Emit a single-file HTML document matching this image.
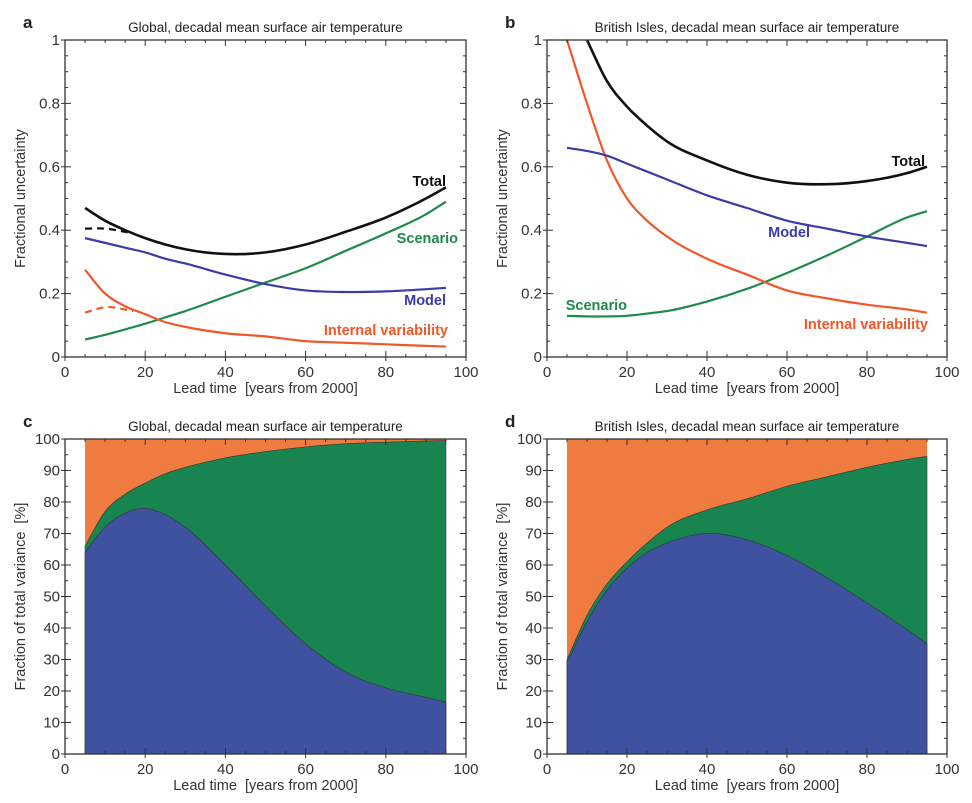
<!DOCTYPE html>
<html><head><meta charset="utf-8">
<style>
body{margin:0;background:#fff;}
svg{display:block;font-family:"Liberation Sans",Arial,sans-serif;}
</style></head>
<body>
<svg id="fig" width="972" height="803" viewBox="0 0 972 803"></svg>
<script>
const xs=[5,10,15,20,25,30,40,50,60,70,80,90,95];
// Panel a values
const aTotal=[0.47,0.43,0.40,0.375,0.355,0.34,0.325,0.33,0.355,0.395,0.44,0.50,0.535];
const aModel=[0.375,0.36,0.345,0.33,0.31,0.295,0.26,0.23,0.21,0.205,0.207,0.214,0.218];
const aScen=[0.055,0.07,0.087,0.105,0.125,0.145,0.19,0.235,0.28,0.335,0.39,0.45,0.49];
const aInt=[0.275,0.2,0.16,0.135,0.11,0.095,0.075,0.065,0.05,0.045,0.04,0.035,0.033];
const aDashX=[5,10,17];
const aTotalDash=[0.405,0.405,0.39];
const aIntDash=[0.14,0.157,0.145];
// Panel b values
const bTotalX=[10,15,20,25,30,40,50,60,70,80,90,95];
const bTotal=[1.0,0.87,0.79,0.73,0.68,0.62,0.575,0.55,0.545,0.555,0.58,0.6];
const bModel=[0.66,0.65,0.635,0.61,0.585,0.56,0.51,0.47,0.43,0.405,0.38,0.36,0.35];
const bScen=[0.13,0.128,0.128,0.13,0.137,0.145,0.175,0.215,0.265,0.32,0.38,0.44,0.46];
const bInt=[1.0,0.8,0.62,0.5,0.43,0.38,0.31,0.26,0.21,0.185,0.165,0.15,0.14];
// Panel c/d fractions (%)
const cModel=[64,72,76.5,78,76,72,60,47,35,26,21,18,16.5];
const cModelScen=[66,77,82.5,86,89,91,94,96,97.5,98.5,99,99.4,99.5];
const dModel=[29,42,52,59,64,67,70,68,63,56,48,39.5,35];
const dModelScen=[30,44,54,61,67,72,77.5,81,85,88,91,93.5,94.5];
const xTicks=[0,20,40,60,80,100];
const yTicksAB=[0,0.2,0.4,0.6,0.8,1];
const yTickLabAB=["0","0.2","0.4","0.6","0.8","1"];
const yTicksCD=[0,10,20,30,40,50,60,70,80,90,100];

const NS="http://www.w3.org/2000/svg";
const svg=document.getElementById('fig');
function el(tag,attrs,parent,text){const e=document.createElementNS(NS,tag);for(const k in attrs)e.setAttribute(k,attrs[k]);if(text!==undefined)e.textContent=text;(parent||svg).appendChild(e);return e;}

function mkPanel(L,R,T,B,ymax){
  return {L,R,T,B,ymax,sx:v=>L+(R-L)*v/100,sy:v=>B-(B-T)*v/ymax};
}
function smooth(pts){
  const n=pts.length;
  const tan=pts.map((p,i)=>{
    if(n<2)return [0,0];
    if(i===0)return [(pts[1][1]-p[1])/(pts[1][0]-p[0])];
    if(i===n-1)return [(p[1]-pts[i-1][1])/(p[0]-pts[i-1][0])];
    const d0=p[0]-pts[i-1][0],d1=pts[i+1][0]-p[0];
    const s0=(p[1]-pts[i-1][1])/d0,s1=(pts[i+1][1]-p[1])/d1;
    return [(s0*d1+s1*d0)/(d0+d1)];
  }).map(t=>t[0]);
  let d=`M${pts[0][0]},${pts[0][1]}`;
  for(let i=0;i<n-1;i++){
    const p1=pts[i],p2=pts[i+1],h=(p2[0]-p1[0])/3;
    d+=`C${p1[0]+h},${p1[1]+tan[i]*h} ${p2[0]-h},${p2[1]-tan[i+1]*h} ${p2[0]},${p2[1]}`;
  }
  return d;
}
function pts(P,xv,yv){return xv.map((x,i)=>[P.sx(x),P.sy(yv[i])]);}

function axes(P,g,letter,title,ylab,yt,ylabels,minorY){
  el('text',{x:P.L-42,y:P.T-12,'font-size':17,'font-weight':'bold',fill:'#222'},g,letter);
  const t=el('text',{x:(P.L+P.R)/2,y:P.T-8,'font-size':13.5,'text-anchor':'middle',fill:'#222'},g,title);
  
  const fr=el('rect',{x:P.L,y:P.T,width:P.R-P.L,height:P.B-P.T,fill:'none',stroke:'#333','stroke-width':1.3},g);
  
  for(let v=0;v<=100;v+=5){
    const x=P.sx(v),len=v%20===0?6:3;
    el('line',{x1:x,x2:x,y1:P.B,y2:P.B-len,stroke:'#333'},g);
    el('line',{x1:x,x2:x,y1:P.T,y2:P.T+len,stroke:'#333'},g);
  }
  xTicks.forEach(v=>{const x=P.sx(v);
    el('line',{x1:x,x2:x,y1:P.B,y2:P.B+4,stroke:'#333'},g);
    const l=el('text',{x:x,y:P.B+20,'font-size':15,'text-anchor':'middle',fill:'#333'},g,String(v));
    });
  for(let v=0;v<=P.ymax+1e-9;v+=minorY){
    const y=P.sy(v);const major=yt.some(t=>Math.abs(t-v)<1e-6);const len=major?6:3;
    el('line',{x1:P.L,x2:P.L+len,y1:y,y2:y,stroke:'#333'},g);
    el('line',{x1:P.R,x2:P.R-len,y1:y,y2:y,stroke:'#333'},g);
  }
  yt.forEach((v,i)=>{const y=P.sy(v);
    el('line',{x1:P.L-4,x2:P.L,y1:y,y2:y,stroke:'#333'},g);
    const l=el('text',{x:P.L-5,y:y+5,'font-size':15,'text-anchor':'end',fill:'#333'},g,ylabels[i]);
    });
  const xl=el('text',{x:(P.L+P.R)/2,y:P.B+36,'font-size':14.5,'text-anchor':'middle',fill:'#333'},g,'Lead time\u00a0 [years from 2000]');
  
  const cy=(P.T+P.B)/2;
  const yl=el('text',{x:P.L-40,y:cy,'font-size':14.5,'text-anchor':'middle',fill:'#333',transform:`rotate(-90 ${P.L-40} ${cy})`},g,ylab);
  
}
function line(P,g,xv,yv,color,w,name,dash){
  const p=el('path',{d:smooth(pts(P,xv,yv)),fill:'none',stroke:color,'stroke-width':w},g);
  if(dash)p.setAttribute('stroke-dasharray',dash);
  
}
function label(g,x,y,txt,color,name){
  const t=el('text',{x,y,'font-size':14.5,'font-weight':'bold',fill:color,'text-anchor':'end'},g,txt);
  
}
const BLK='#111',BLU='#3b3ca6',GRN='#1e8a4c',ORG='#f0582a';

// Panel a
const A=mkPanel(65,466,40,357,1);
const ga=el('g',{});
const clipA=el('clipPath',{id:'ca'});el('rect',{x:A.L,y:A.T,width:A.R-A.L,height:A.B-A.T},clipA);
const gaL=el('g',{'clip-path':'url(#ca)'},ga);
line(A,gaL,xs,aScen,GRN,2.2,'scenario-line');
line(A,gaL,xs,aInt,ORG,2.2,'internal-variability-line');
line(A,gaL,xs,aModel,BLU,2.2,'model-line');
line(A,gaL,xs,aTotal,BLK,2.6,'total-line');
line(A,gaL,aDashX,aTotalDash,BLK,2.2,'total-dashed-line','7 5');
line(A,gaL,aDashX,aIntDash,ORG,2.2,'internal-dashed-line','7 5');
axes(A,ga,'a','Global, decadal mean surface air temperature','Fractional uncertainty',yTicksAB,yTickLabAB,0.05);
label(ga,446,186,'Total',BLK,'total-label');
label(ga,458,243,'Scenario',GRN,'scenario-label');
label(ga,446,305,'Model',BLU,'model-label');
label(ga,448,335,'Internal variability',ORG,'internal-variability-label');

// Panel b
const Bp=mkPanel(547,947,40,357,1);
const gb=el('g',{});
const clipB=el('clipPath',{id:'cb'});el('rect',{x:Bp.L,y:Bp.T,width:Bp.R-Bp.L,height:Bp.B-Bp.T},clipB);
const gbL=el('g',{'clip-path':'url(#cb)'},gb);
line(Bp,gbL,xs,bScen,GRN,2.2,'scenario-line');
line(Bp,gbL,xs,bInt,ORG,2.2,'internal-variability-line');
line(Bp,gbL,xs,bModel,BLU,2.2,'model-line');
line(Bp,gbL,bTotalX,bTotal,BLK,2.6,'total-line');
axes(Bp,gb,'b','British Isles, decadal mean surface air temperature','Fractional uncertainty',yTicksAB,yTickLabAB,0.05);
label(gb,925,166,'Total',BLK,'total-label');
label(gb,810,237,'Model',BLU,'model-label');
label(gb,627,310,'Scenario',GRN,'scenario-label');
label(gb,928,329,'Internal variability',ORG,'internal-variability-label');

// Stacked panels
function stacked(P,g,m,ms){
  const x0=P.sx(xs[0]),x1=P.sx(xs[xs.length-1]);
  const o=el('rect',{x:x0,y:P.T,width:x1-x0,height:P.B-P.T,fill:'#f07b40'},g);
  
  const top=pts(P,xs,ms);
  const gp=el('path',{d:smooth(top)+`L${x1},${P.B}L${x0},${P.B}Z`,fill:'#188450',stroke:'#333','stroke-width':0.6},g);
  
  const bp=pts(P,xs,m);
  const bl=el('path',{d:smooth(bp)+`L${x1},${P.B}L${x0},${P.B}Z`,fill:'#3f52a0',stroke:'#333','stroke-width':0.6},g);
  
}
const C=mkPanel(65,466,439,754,100);
const gc=el('g',{});
stacked(C,gc,cModel,cModelScen);
axes(C,gc,'c','Global, decadal mean surface air temperature','Fraction of total variance\u00a0 [%]',yTicksCD,yTicksCD.map(String),5);
const D=mkPanel(547,947,439,754,100);
const gd=el('g',{});
stacked(D,gd,dModel,dModelScen);
axes(D,gd,'d','British Isles, decadal mean surface air temperature','Fraction of total variance\u00a0 [%]',yTicksCD,yTicksCD.map(String),5);
</script>
</body></html>
